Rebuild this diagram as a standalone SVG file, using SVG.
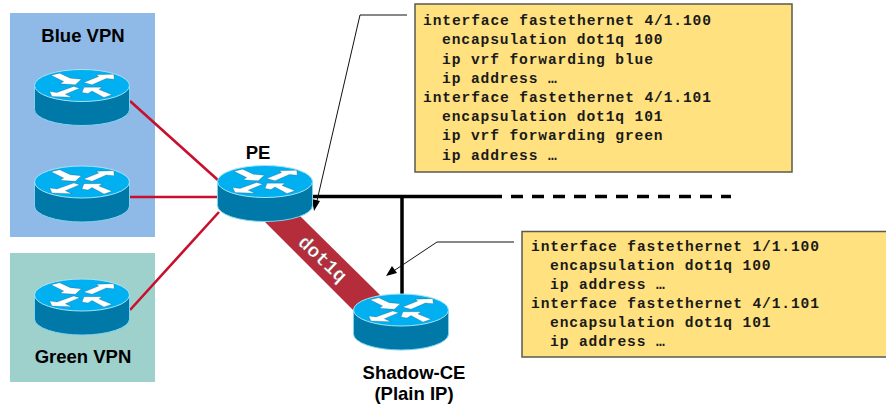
<svg xmlns="http://www.w3.org/2000/svg" width="886" height="404" viewBox="0 0 886 404">
<style>
text{font-family:"Liberation Sans",Arial,sans-serif;font-weight:bold;fill:#000}
.lbl{font-size:18.5px;text-anchor:middle}
.code{font-family:"Liberation Mono","Courier New",monospace;font-size:14.6px;letter-spacing:.87px;fill:#1a1a1a}
.dot{font-family:"Liberation Mono","Courier New",monospace;font-size:19.5px;fill:#fff;stroke:#2a2a2a;stroke-width:.25}
.box{fill:#ffe27f;stroke:#5a5a50;stroke-width:1.5}
.red{stroke:#c8102e;stroke-width:2.6;fill:none}
.blk{stroke:#000;stroke-width:3.5;fill:none}
.thin{stroke:#111;stroke-width:1;fill:none}
.ah{fill:#000;stroke:none}
</style>
<defs>
<g id="router">
<path d="M-47.500 0V24A47.500 16 0 0 0 47.500 24V0Z" fill="#0079a8" stroke="#7fd4f0" stroke-width="1"/>
<ellipse cx="0" cy="0" rx="47.500" ry="16" fill="#00b0f0" stroke="#a5e4f8" stroke-width="1"/>
<g fill="#fff" stroke="#1a1a2a" stroke-width=".2">
<path d="M-31 -10.300-22.300 -12.300-11.700 -7.300-.7 -6.300-6.700 -.7-21.700 -1.700-18.300 -4Z"/>
<path d="M1.700 -3 16.700 -9 14.300 -10.700 31.700 -11.300 32.300 -6.300 24.300 -7 10 -.7Z"/>
<path d="M-32.300 6-30 11-10 11.700-16.700 8.700-2.300 2.700-8.300 1-25 7Z"/>
<path d="M0 7 2 1.700 20 1.700 17 4 30 9.300 22 12 10 5.500 6 8Z"/>
</g>
</g>
</defs>
<rect x="10" y="13" width="145" height="224" fill="#8fb9e6"/>
<rect x="10" y="253" width="145" height="129" fill="#9ed0cc"/>
<g id="connectors">
<path d="M265 222 L300 216 L380 295 L353 310Z" fill="#b52d3a"/>
<path class="red" d="M130 101 219 181M130 197H219M130 310 219 212"/>
<path class="blk" d="M313 196.500H502M402 196.500V294"/>
<path class="blk" stroke-dasharray="12 9" d="M511 196.500H731"/>
<path class="thin" d="M407 15H360L316 205"/>
<path class="ah" d="M314 211 312 199 320 201Z"/>
<path class="thin" d="M514 242H437L392 272"/>
<path class="ah" d="M386 276 392 266 397 273Z"/>
</g>
<text class="dot" transform="translate(297 243.500) rotate(43)">dot1q</text>
<g id="blue-vpn"><text class="lbl" x="83" y="42">Blue VPN</text></g>
<g id="green-vpn"><text class="lbl" x="83" y="363">Green VPN</text></g>
<g id="r1"><use href="#router" x="82" y="85.500"/></g>
<g id="r2"><use href="#router" x="82" y="182"/></g>
<g id="r3"><use href="#router" x="82" y="295"/></g>
<g id="pe"><use href="#router" x="265" y="181.500"/><text class="lbl" x="258" y="159">PE</text></g>
<g id="shadow-ce"><use href="#router" x="401" y="310"/><text class="lbl" x="414" y="379">Shadow-CE</text><text class="lbl" x="414" y="400">(Plain IP)</text></g>
<g id="box1">
<rect class="box" x="415" y="4" width="377" height="168"/>
<text class="code" x="423" y="25">interface fastethernet 4/1.100</text>
<text class="code" x="442" y="44">encapsulation dot1q 100</text>
<text class="code" x="442" y="64">ip vrf forwarding blue</text>
<text class="code" x="442" y="83">ip address …</text>
<text class="code" x="423" y="102">interface fastethernet 4/1.101</text>
<text class="code" x="442" y="121">encapsulation dot1q 101</text>
<text class="code" x="442" y="140">ip vrf forwarding green</text>
<text class="code" x="442" y="160">ip address …</text>
</g>
<g id="box2">
<rect class="box" x="522" y="231.500" width="370" height="125.500"/>
<text class="code" x="531" y="251">interface fastethernet 1/1.100</text>
<text class="code" x="550" y="270">encapsulation dot1q 100</text>
<text class="code" x="550" y="289">ip address …</text>
<text class="code" x="531" y="308">interface fastethernet 4/1.101</text>
<text class="code" x="550" y="327">encapsulation dot1q 101</text>
<text class="code" x="550" y="346">ip address …</text>
</g>
</svg>
